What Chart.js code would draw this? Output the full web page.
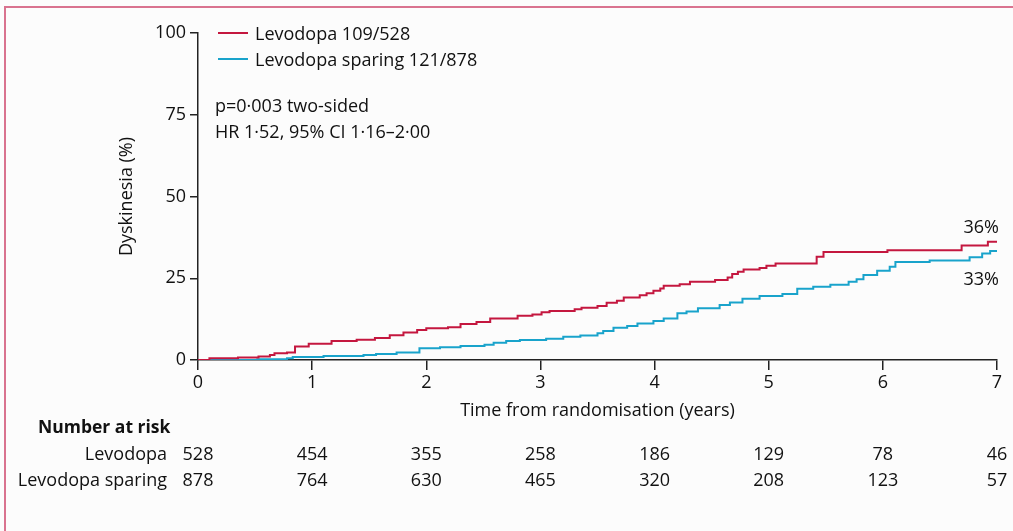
<!DOCTYPE html>
<html>
<head>
<meta charset="utf-8">
<script src="https://cdn.jsdelivr.net/npm/chart.js@4"></script>
<style>
  html, body { margin: 0; padding: 0; background: #fcfcfc; }
  #frame { position: absolute; left: 4px; top: 6px; width: 1013px; height: 531px;
           border-left: 2px solid #d9738f; border-top: 2px solid #d9738f; }
  #wrap { position: absolute; left: 0; top: 0; width: 1013px; height: 531px; }
</style>
</head>
<body>
<div id="frame"></div>
<div id="wrap"><canvas id="myChart" width="1013" height="531"></canvas></div>
<script>
// Kaplan-Meier style cumulative incidence (%)
var levodopaT = [0, 0.1, 0.35, 0.53, 0.63, 0.67, 0.78, 0.85, 0.97, 1.17, 1.39, 1.55, 1.68, 1.8, 1.92, 2.0, 2.19, 2.3, 2.44, 2.56, 2.8, 2.93, 3.01, 3.08, 3.3, 3.36, 3.5, 3.58, 3.67, 3.73, 3.87, 3.93, 3.99, 4.05, 4.08, 4.22, 4.31, 4.53, 4.64, 4.68, 4.73, 4.78, 4.92, 4.98, 5.06, 5.42, 5.48, 6.04, 6.69, 6.92, 7.0];
var levodopaV = [0, 0.5, 0.8, 1.1, 1.5, 2.1, 2.3, 4.1, 5.0, 5.8, 6.2, 6.7, 7.6, 8.4, 9.2, 9.7, 10.0, 11.0, 11.6, 12.7, 13.5, 13.9, 14.6, 15.0, 15.5, 16.0, 16.5, 17.5, 18.1, 19.1, 19.8, 20.4, 21.2, 21.9, 22.7, 23.2, 23.9, 24.5, 25.2, 26.3, 27.0, 27.7, 28.1, 28.8, 29.5, 31.6, 33.0, 33.6, 35.0, 36.2, 36.2];
var sparingT = [0, 0.52, 0.78, 0.83, 1.1, 1.45, 1.56, 1.74, 1.94, 2.12, 2.3, 2.51, 2.59, 2.7, 2.82, 3.05, 3.2, 3.35, 3.5, 3.55, 3.64, 3.76, 3.85, 3.99, 4.08, 4.2, 4.28, 4.38, 4.57, 4.66, 4.77, 4.92, 5.12, 5.25, 5.39, 5.54, 5.7, 5.77, 5.83, 5.95, 6.06, 6.11, 6.41, 6.76, 6.87, 6.94, 7.0];
var sparingV = [0, 0.2, 0.5, 0.9, 1.2, 1.5, 1.8, 2.3, 3.6, 3.9, 4.3, 4.7, 5.3, 5.8, 6.1, 6.5, 7.1, 7.5, 8.2, 8.9, 9.9, 10.4, 11.2, 11.9, 12.7, 14.3, 14.8, 15.8, 16.8, 17.6, 18.7, 19.6, 20.2, 21.8, 22.4, 23.0, 23.9, 24.7, 26.0, 27.3, 28.5, 30.0, 30.4, 31.4, 32.6, 33.3, 33.3];

var seriesNames = ["Levodopa 109/528", "Levodopa sparing 121/878"];
var endLabels = ["36%", "33%"];
var statsText = ["p=0\u00b7003 two-sided", "HR 1\u00b752, 95% CI 1\u00b716\u20132\u00b700"];

var riskYears = [0, 1, 2, 3, 4, 5, 6, 7];
var riskGroups = ["Levodopa", "Levodopa sparing"];
var riskLevodopa = [528, 454, 355, 258, 186, 129, 78, 46];
var riskSparing = [878, 764, 630, 465, 320, 208, 123, 57];

var FONT = "'Open Sans', 'Noto Sans', sans-serif";
var RED = "#c4173f";
var BLUE = "#19a3cb";

function toPoints(t, v) {
    var pts = [];
    for (var i = 0; i < t.length; i++) pts.push({x: t[i], y: v[i]});
    return pts;
}

// legend, stats text, end labels and the number-at-risk table
var extras = {
    id: "extras",
    afterDraw: function(chart) {
        var c = chart.ctx;
        var xs = chart.scales.x, ys = chart.scales.y;
        c.save();
        c.fillStyle = "#111";
        c.textBaseline = "middle";
        c.font = "18px " + FONT;

        // legend
        var colors = [RED, BLUE];
        for (var i = 0; i < seriesNames.length; i++) {
            var ly = 33 + i * 26;
            c.strokeStyle = colors[i];
            c.lineWidth = 2;
            c.beginPath(); c.moveTo(218, ly); c.lineTo(248, ly); c.stroke();
            c.textAlign = "left";
            c.fillText(seriesNames[i], 255, ly + 1.5);
        }
        // stats
        c.fillText(statsText[0], 215, 106.5);
        c.fillText(statsText[1], 215, 132.5);

        // end labels
        c.textAlign = "right";
        var ds = chart.data.datasets;
        var lastR = ds[0].data[ds[0].data.length - 1];
        var lastB = ds[1].data[ds[1].data.length - 1];
        c.fillText(endLabels[0], xs.getPixelForValue(lastR.x) + 2, ys.getPixelForValue(lastR.y) - 13.5);
        c.fillText(endLabels[1], xs.getPixelForValue(lastB.x) + 2, ys.getPixelForValue(lastB.y) + 28.5);

        // number at risk
        c.textAlign = "left";
        c.font = "bold 17.5px " + FONT;
        c.fillText("Number at risk", 38, 428.5);
        c.font = "18px " + FONT;
        c.textAlign = "right";
        c.fillText(riskGroups[0], 167, 454.5);
        c.fillText(riskGroups[1], 167, 480.5);
        c.textAlign = "center";
        for (var j = 0; j < riskYears.length; j++) {
            var px = xs.getPixelForValue(riskYears[j]);
            c.fillText(String(riskLevodopa[j]), px, 454.5);
            c.fillText(String(riskSparing[j]), px, 480.5);
        }
        c.restore();
    }
};

var ctx = document.getElementById("myChart").getContext("2d");
var myChart = new Chart(ctx, {
    type: "line",
    data: {
        datasets: [
            {
                label: seriesNames[0],
                data: toPoints(levodopaT, levodopaV),
                borderColor: RED,
                borderWidth: 2,
                pointRadius: 0,
                stepped: "before",
                fill: false
            },
            {
                label: seriesNames[1],
                data: toPoints(sparingT, sparingV),
                borderColor: BLUE,
                borderWidth: 2,
                pointRadius: 0,
                stepped: "before",
                fill: false
            }
        ]
    },
    options: {
        responsive: false,
        animation: false,
        layout: { padding: { left: 116, right: 16, top: 33, bottom: 109 } },
        plugins: { legend: { display: false }, tooltip: { enabled: false } },
        scales: {
            x: {
                type: "linear",
                min: 0, max: 7,
                afterFit: function(s) { s.height = 62; },
                ticks: { stepSize: 1, color: "#111", font: { family: FONT, size: 18 }, padding: 2, maxRotation: 0 },
                grid: { drawOnChartArea: false, drawTicks: true, tickLength: 10, color: "#222", lineWidth: 1.5 },
                border: { display: true, color: "#222", width: 1.5 },
                title: { display: true, text: "Time from randomisation (years)", color: "#111", font: { family: FONT, size: 18 }, padding: 0 }
            },
            y: {
                min: 0, max: 100,
                afterFit: function(s) { s.width = 82; },
                ticks: { stepSize: 25, color: "#111", font: { family: FONT, size: 18 }, padding: 4 },
                grid: { drawOnChartArea: false, drawTicks: true, tickLength: 8, color: "#222", lineWidth: 1.5 },
                border: { display: true, color: "#222", width: 1.5 },
                title: { display: true, text: "Dyskinesia (%)", color: "#111", font: { family: FONT, size: 18 }, padding: 0 }
            }
        }
    },
    plugins: [extras]
});
</script>
</body>
</html>
